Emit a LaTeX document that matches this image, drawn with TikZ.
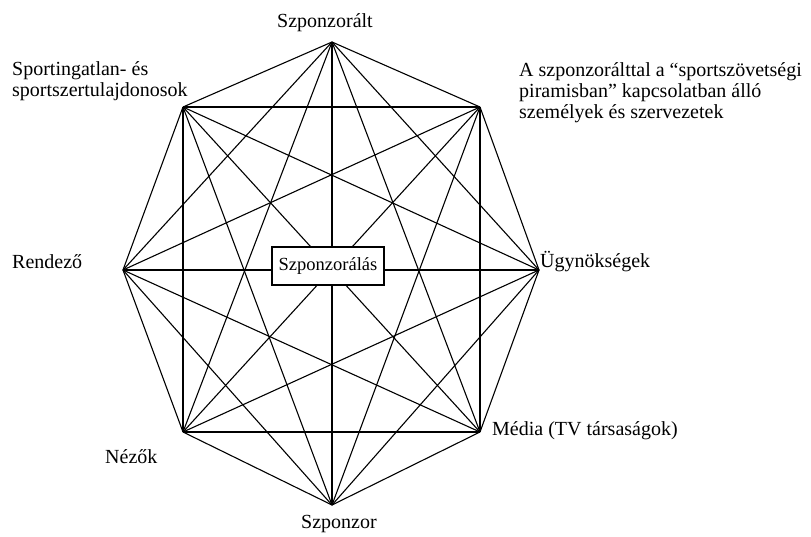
\documentclass[tikz,border=0pt]{standalone}
\usepackage{fontspec}
\setmainfont{Liberation Serif}
\begin{document}
\begin{tikzpicture}[x=1pt,y=-1pt,
  lbl/.style={inner sep=0pt, font=\fontsize{20}{21}\selectfont},
  edge/.style={line width=1.1pt, black},
  centerbox/.style={draw, line width=1.2pt, fill=white, minimum width=112pt, minimum height=38pt, inner sep=0pt, font=\fontsize{18.5}{20}\selectfont}]
\useasboundingbox (0,0) rectangle (811,536);
\coordinate (v1) at (332,42);
\coordinate (v2) at (480,107);
\coordinate (v3) at (539,270);
\coordinate (v4) at (480,432);
\coordinate (v5) at (332,505);
\coordinate (v6) at (183,432);
\coordinate (v7) at (123,270);
\coordinate (v8) at (183,107);
\foreach \i in {1,...,7}{
  \pgfmathtruncatemacro{\s}{\i+1}
  \foreach \j in {\s,...,8}{
    \draw[edge] (v\i) -- (v\j);
  }
}
\node[centerbox] (c) at (328,266) {Szponzorálás};
\node[lbl, anchor=base] (t1) at (325,27) {Szponzorált};
\node[lbl, anchor=north west, align=left] (t8) at (12,61) {Sportingatlan- és\\sportszertulajdonosok};
\node[lbl, anchor=north west, align=left] (t2) at (519,62) {A szponzorálttal a “sportszövetségi\\piramisban” kapcsolatban álló\\személyek és szervezetek};
\node[lbl, anchor=base west] (t7) at (12,268) {Rendező};
\node[lbl, anchor=base west] (t3) at (540,267) {Ügynökségek};
\node[lbl, anchor=base west] (t6) at (105,463) {Nézők};
\node[lbl, anchor=base west] (t4) at (492,435) {Média (TV társaságok)};
\node[lbl, anchor=base] (t5) at (339,528) {Szponzor};
\end{tikzpicture}
\end{document}
